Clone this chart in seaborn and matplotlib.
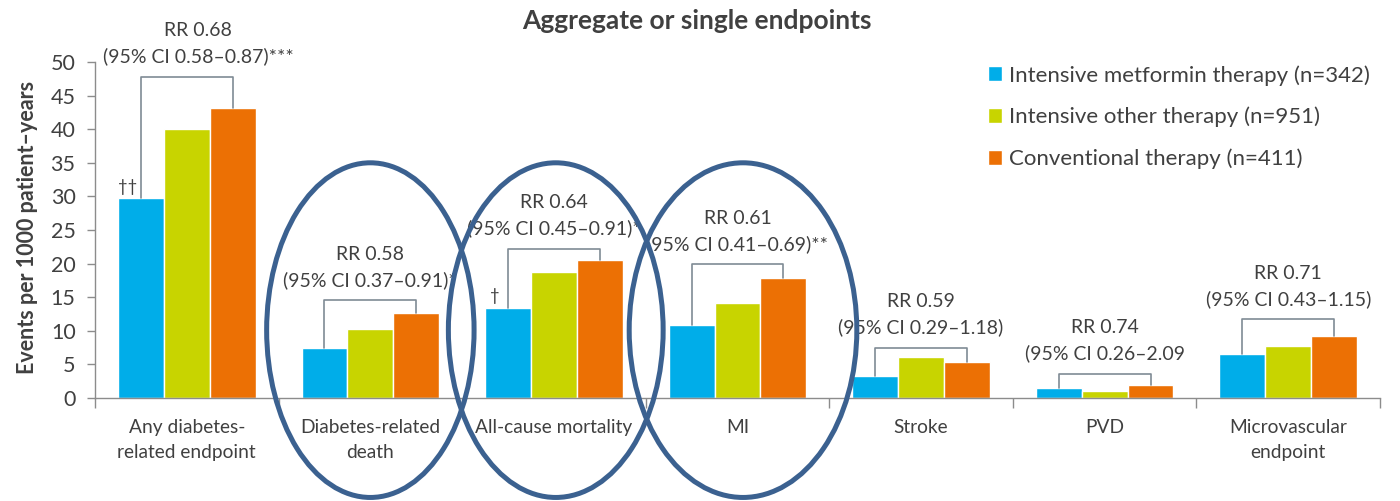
import matplotlib
matplotlib.use("Agg")
import matplotlib.pyplot as plt
import pandas as pd
import seaborn as sns
from matplotlib.patches import Ellipse

# ---- data -------------------------------------------------------------
endpoints = [
    "Any diabetes-\nrelated endpoint",
    "Diabetes-related\ndeath",
    "All-cause mortality",
    "MI",
    "Stroke",
    "PVD",
    "Microvascular\nendpoint",
]
therapies = [
    "Intensive metformin therapy (n=342)",
    "Intensive other therapy (n=951)",
    "Conventional therapy (n=411)",
]
metformin = [29.7, 7.4, 13.4, 10.9, 3.3, 1.5, 6.6]
other_therapy = [40.1, 10.3, 18.8, 14.2, 6.1, 1.1, 7.7]
conventional = [43.2, 12.6, 20.5, 17.9, 5.4, 2.0, 9.2]

rr_labels = ["RR 0.68", "RR 0.58", "RR 0.64", "RR 0.61", "RR 0.59", "RR 0.74", "RR 0.71"]
ci_labels = [
    "(95% CI 0.58\u20130.87)***",
    "(95% CI 0.37\u20130.91)*",
    "(95% CI 0.45\u20130.91)*",
    "(95% CI 0.41\u20130.69)**",
    "(95% CI 0.29\u20131.18)",
    "(95% CI 0.26\u20132.09",
    "(95% CI 0.43\u20131.15)",
]
dagger_marks = ["\u2020\u2020", "", "\u2020", "", "", "", ""]
highlighted = [1, 2, 3]

# ---- layout / style ---------------------------------------------------
bracket_top = [47.8, 14.6, 22.2, 19.9, 7.5, 3.6, 11.7]
label_dx = [8, 0, 0, 0, 0, 0, 0]          # horizontal nudge of the RR labels, points
ellipse_width = {1: 1.13, 2: 1.17, 3: 1.24}
ellipse_shift = {1: 0.0, 2: 0.01, 3: 0.03}
colors = ["#00ADE9", "#C8D400", "#EC7004"]
text_color = "#404040"
axis_color = "#8C8C8C"
bracket_color = "#7F8B95"
ring_color = "#3B6190"

sns.set_theme(style="white")
plt.rcParams["font.family"] = ["Lato", "DejaVu Sans"]

df = pd.DataFrame({
    "endpoint": endpoints * 3,
    "therapy": [t for t in therapies for _ in endpoints],
    "rate": metformin + other_therapy + conventional,
})

W, H = 1400, 501
fig = plt.figure(figsize=(W / 100, H / 100), dpi=100)
ax = fig.add_axes([95 / W, 1 - 398 / H, (1380 - 95) / W, (398 - 62) / H])

sns.barplot(
    data=df, x="endpoint", y="rate", hue="therapy",
    order=endpoints, hue_order=therapies, palette=colors,
    width=0.75, saturation=1, errorbar=None, ax=ax, zorder=2,
)

ax.set_xlim(-0.5, len(endpoints) - 0.5)
ax.set_ylim(0, 50)
ax.set_yticks(range(0, 51, 5))
ax.set_xlabel("")
ax.set_ylabel("")

for side in ("top", "right"):
    ax.spines[side].set_visible(False)
for side in ("left", "bottom"):
    ax.spines[side].set_color(axis_color)
    ax.spines[side].set_linewidth(1.0)

ax.tick_params(axis="y", which="major", direction="out", length=6, width=1,
               color=axis_color, labelsize=15.5, labelcolor=text_color, pad=8, left=True)
ax.set_xticks([i - 0.5 for i in range(len(endpoints) + 1)], minor=True)
ax.tick_params(axis="x", which="minor", direction="out", length=7, width=1,
               color=axis_color, bottom=True)
ax.tick_params(axis="x", which="major", length=0, labelsize=13.8,
               labelcolor=text_color, pad=15)
for lbl in ax.get_xticklabels():
    lbl.set_linespacing(1.55)

# brackets and relative-risk labels, positioned from the drawn bars
blue_bars, green_bars, orange_bars = ax.containers[:3]
for i in range(len(endpoints)):
    b = blue_bars[i]
    o = orange_bars[i]
    xb = b.get_x() + b.get_width() / 2
    xo = o.get_x() + o.get_width() / 2
    top = bracket_top[i]
    ax.plot([xb, xb, xo, xo], [b.get_height(), top, top, o.get_height()],
            color=bracket_color, lw=1.2, zorder=3, clip_on=False)
    xc = (b.get_x() + o.get_x() + o.get_width()) / 2
    ax.annotate(ci_labels[i], xy=(xc, top), xytext=(label_dx[i], 14.5),
                textcoords="offset points", ha="center", va="center",
                fontsize=14, color=text_color, annotation_clip=False)
    ax.annotate(rr_labels[i], xy=(xc, top), xytext=(label_dx[i], 33),
                textcoords="offset points", ha="center", va="center",
                fontsize=14, color=text_color, annotation_clip=False)
    if dagger_marks[i]:
        ax.annotate(dagger_marks[i], xy=(xb, b.get_height()), xytext=(-9.5, 8.5),
                    textcoords="offset points", ha="center", va="center",
                    fontsize=12, color=text_color, annotation_clip=False)

# rings around the highlighted endpoints
for i in highlighted:
    ax.add_patch(Ellipse((i + ellipse_shift[i], 10.1), ellipse_width[i], 49.8,
                         fill=False, edgecolor=ring_color, lw=3.6,
                         clip_on=False, zorder=6))

leg = ax.legend(
    loc="upper left", bbox_to_anchor=(988 / W, 1 - 65 / H), bbox_transform=fig.transFigure,
    frameon=False, fontsize=16, handlelength=0.65, handleheight=0.65,
    handletextpad=0.3, labelspacing=0.95, borderpad=0, borderaxespad=0,
)
for t in leg.get_texts():
    t.set_color(text_color)

fig.text(697 / W, 1 - 21 / H, "Aggregate or single endpoints", ha="center", va="center",
         fontsize=19, fontweight="bold", color=text_color)
fig.text(28 / W, 1 - 227 / H, "Events per 1000 patient\u2013years", ha="center", va="center",
         rotation=90, fontsize=15.5, fontweight="bold", color=text_color)

fig.savefig("out.png", dpi=100, facecolor="white")
